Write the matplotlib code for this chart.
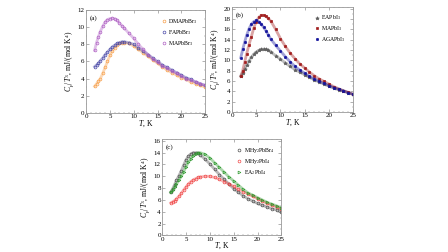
import numpy as np
import matplotlib.pyplot as plt
from matplotlib.ticker import MultipleLocator

plt.rcParams['font.family'] = ['Liberation Serif', 'DejaVu Serif']
plt.rcParams['mathtext.fontset'] = 'custom'
plt.rcParams['mathtext.rm'] = 'Liberation Serif'
plt.rcParams['mathtext.it'] = 'Liberation Serif:italic'

# temperature points, K (same grid for every sample)
T = [1.8, 2.2, 2.6, 3, 3.5, 4, 4.5, 5, 5.5, 6, 6.5, 7, 7.5, 8, 9, 10,
     11, 12, 13, 14, 15, 16, 17, 18, 19, 20, 21, 22, 23, 24, 25]

# (a) bromides
DMAPbBr3 = [3.1, 3.4, 3.7, 4.0, 4.6, 5.3, 6.0, 6.7, 7.2, 7.6, 7.9, 8.1, 8.2, 8.2, 8.1, 7.8,
            7.4, 7.0, 6.6, 6.2, 5.8, 5.4, 5.0, 4.7, 4.4, 4.1, 3.9, 3.6, 3.4, 3.2, 3.0]
FAPbBr3 = [5.4, 5.6, 5.8, 6.1, 6.4, 6.8, 7.1, 7.4, 7.7, 7.9, 8.1, 8.2, 8.3, 8.3, 8.2, 8.0,
           7.6, 7.2, 6.8, 6.4, 6.0, 5.6, 5.3, 5.0, 4.7, 4.4, 4.1, 3.9, 3.6, 3.4, 3.2]
MAPbBr3 = [7.3, 8.2, 8.9, 9.5, 10.1, 10.6, 10.9, 11.0, 11.05, 11.0, 10.8, 10.5, 10.2, 9.9, 9.3, 8.7,
           8.0, 7.4, 6.8, 6.3, 5.9, 5.5, 5.2, 4.9, 4.6, 4.3, 4.0, 3.8, 3.6, 3.4, 3.2]

# (b) iodides
EAPbI3 = [6.9, 7.6, 8.3, 9.0, 9.9, 10.6, 11.2, 11.6, 11.9, 12.1, 12.15, 12.1, 11.9, 11.6, 10.9, 10.2,
          9.5, 8.8, 8.2, 7.7, 7.2, 6.7, 6.2, 5.8, 5.4, 5.0, 4.6, 4.3, 4.0, 3.7, 3.4]
MAPbI3 = [6.9, 8.0, 9.6, 11.2, 13.0, 14.6, 16.3, 17.5, 18.3, 18.7, 18.7, 18.5, 18.1, 17.6, 16.0, 14.2,
          12.7, 11.4, 10.3, 9.3, 8.5, 7.7, 7.0, 6.4, 5.9, 5.4, 4.9, 4.5, 4.1, 3.8, 3.4]
AGAPbI3 = [10.5, 12.1, 13.5, 14.8, 16.1, 17.0, 17.5, 17.7, 17.5, 17.0, 16.4, 15.7, 14.9, 14.1, 12.9, 11.8,
           10.7, 9.7, 8.8, 8.1, 7.5, 6.9, 6.4, 5.9, 5.5, 5.1, 4.7, 4.4, 4.1, 3.7, 3.4]

# (c) layered
MHy2PbBr4 = [7.3, 7.9, 8.6, 9.3, 10.1, 10.9, 11.9, 12.8, 13.4, 13.8, 14.0, 14.0, 13.9, 13.6, 12.9, 12.1,
             11.2, 10.3, 9.5, 8.7, 7.9, 7.3, 6.7, 6.2, 5.8, 5.4, 5.1, 4.8, 4.5, 4.3, 4.0]
MHy2PbI4 = [5.5, 5.7, 5.9, 6.2, 6.6, 7.1, 7.7, 8.2, 8.7, 9.1, 9.4, 9.6, 9.8, 9.9, 10.0, 10.0,
            9.8, 9.5, 9.1, 8.7, 8.3, 7.8, 7.4, 7.0, 6.6, 6.2, 5.8, 5.4, 5.1, 4.8, 4.5]
EA2PbI4 = [7.3, 7.7, 8.2, 8.7, 9.3, 10.0, 10.8, 11.6, 12.4, 13.0, 13.5, 13.8, 14.0, 14.0, 13.7, 13.1,
           12.3, 11.5, 10.7, 9.9, 9.2, 8.5, 7.8, 7.2, 6.8, 6.4, 6.0, 5.6, 5.3, 5.0, 4.7]

fig = plt.figure(figsize=(4.48, 2.52), dpi=100)
ax_a = fig.add_axes([0.192, 0.552, 0.266, 0.408])
ax_b = fig.add_axes([0.518, 0.556, 0.270, 0.418])
ax_c = fig.add_axes([0.362, 0.066, 0.266, 0.382])

ylab = '$C_p/T^3$, mJ/(mol K$^4$)'


def style(ax, ymax, ystep, tag):
    ax.set_xlim(0, 25)
    ax.set_ylim(0, ymax)
    ax.xaxis.set_major_locator(MultipleLocator(5))
    ax.xaxis.set_minor_locator(MultipleLocator(1))
    ax.yaxis.set_major_locator(MultipleLocator(ystep))
    ax.yaxis.set_minor_locator(MultipleLocator(ystep / 2))
    ax.tick_params(which='both', direction='in', top=True, right=True,
                   labelsize=5, pad=1, color='#777777')
    ax.tick_params(which='major', length=2, width=0.4)
    ax.tick_params(which='minor', length=1, width=0.3)
    for s in ax.spines.values():
        s.set_color('#999999')
        s.set_linewidth(0.6)
    ax.set_xlabel('$T$, K', fontsize=5.5, labelpad=-0.5)
    ax.set_ylabel(ylab, fontsize=5.5, labelpad=1)
    ax.text(0.03, 0.95, tag, transform=ax.transAxes, fontsize=5, va='top')
    ax.legend(loc='upper right', frameon=False, fontsize=4.2, handlelength=0.8,
              handletextpad=0.3, labelspacing=0.35, borderaxespad=0.8)


def draw(ax, y, color, marker, label, filled=False, ms=2.0):
    ax.plot(T, y, '-', color=color, lw=2.0, alpha=0.4)
    ax.plot(T, y, linestyle='none', marker=marker, ms=ms, mew=0.5, color=color,
            mfc=color if filled else 'none', label=label)


draw(ax_a, DMAPbBr3, '#f7a04c', 'o', 'DMAPbBr$_3$')
draw(ax_a, FAPbBr3, '#4b4aa8', 'o', 'FAPbBr$_3$')
draw(ax_a, MAPbBr3, '#b062c4', 'o', 'MAPbBr$_3$')
style(ax_a, 12, 2, '(a)')

draw(ax_b, EAPbI3, '#606060', '*', 'EAPbI$_3$', filled=True, ms=2.6)
draw(ax_b, MAPbI3, '#a01c1c', 's', 'MAPbI$_3$', filled=True, ms=1.7)
draw(ax_b, AGAPbI3, '#14149c', 'o', 'AGAPbI$_3$', filled=True, ms=1.7)
style(ax_b, 20.4, 2, '(b)')
ax_b.yaxis.set_minor_locator(MultipleLocator(1))

draw(ax_c, MHy2PbBr4, '#505050', 'o', 'MHy$_2$PbBr$_4$')
draw(ax_c, MHy2PbI4, '#f04848', 'o', 'MHy$_2$PbI$_4$')
draw(ax_c, EA2PbI4, '#2e9a2e', '>', 'EA$_2$PbI$_4$')
style(ax_c, 16.3, 2, '(c)')

fig.savefig('out.png', dpi=100)
